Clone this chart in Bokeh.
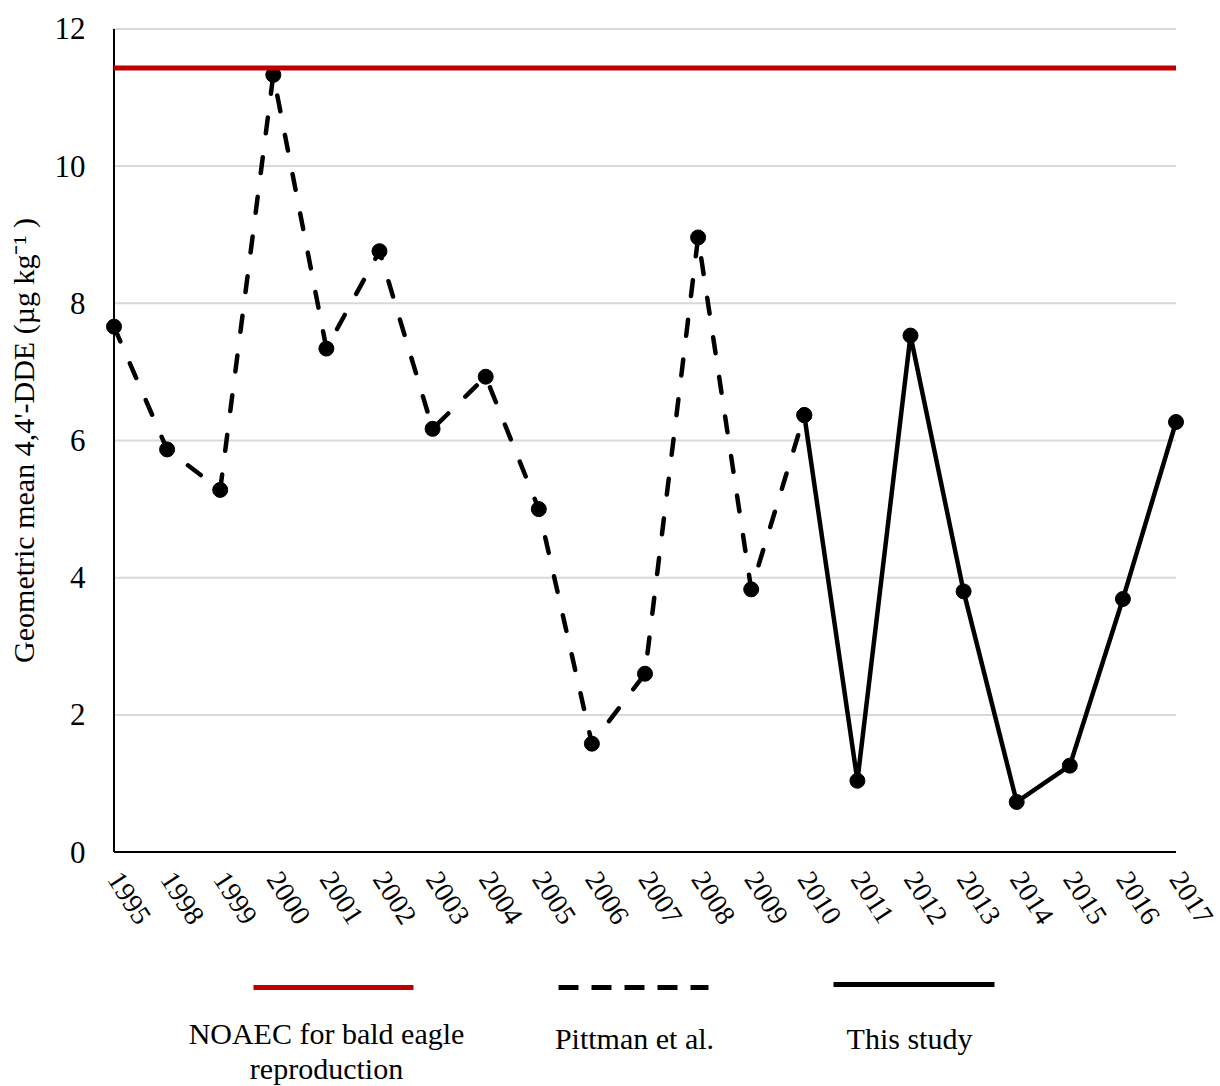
from bokeh.plotting import figure
from bokeh.models import Range1d, FixedTicker, Label
from bokeh.layouts import column
from bokeh.embed import file_html
from bokeh.resources import INLINE

years = ["1995", "1998", "1999", "2000", "2001", "2002", "2003", "2004", "2005", "2006",
         "2007", "2008", "2009", "2010", "2011", "2012", "2013", "2014", "2015", "2016", "2017"]
pittman_years = ["1995", "1998", "1999", "2000", "2001", "2002", "2003", "2004", "2005",
                 "2006", "2007", "2008", "2009", "2010"]
pittman_vals = [7.66, 5.87, 5.28, 11.33, 7.34, 8.76, 6.17, 6.93, 5.00, 1.58, 2.60, 8.96, 3.83, 6.37]
study_years = ["2010", "2011", "2012", "2013", "2014", "2015", "2016", "2017"]
study_vals = [6.37, 1.04, 7.53, 3.80, 0.73, 1.26, 3.69, 6.27]
noaec = 11.43
y_ticks = [0, 2, 4, 6, 8, 10, 12]

FONT = "Liberation Serif"
idx = {y: i for i, y in enumerate(years)}
px = [idx[y] for y in pittman_years]
sx = [idx[y] for y in study_years]
n_last = len(years) - 1
y_max = y_ticks[-1]

W = 1220
BL, BR = 105, 36

p = figure(width=W, height=950, x_range=Range1d(-0.16, n_last + 0.16),
           y_range=Range1d(-0.05, y_max + 0.05),
           output_backend="svg", toolbar_location=None,
           min_border_left=BL, min_border_right=BR, min_border_top=25, min_border_bottom=95)
p.outline_line_color = None
p.grid.visible = False

p.yaxis.ticker = FixedTicker(ticks=y_ticks)
p.xaxis.ticker = FixedTicker(ticks=list(range(len(years))))
p.xaxis.major_label_overrides = {i: y for i, y in enumerate(years)}
p.xaxis.major_label_orientation = -1.0
for ax in (p.xaxis, p.yaxis):
    ax.axis_line_color = None
    ax.major_tick_line_color = None
    ax.minor_tick_line_color = None
    ax.major_label_text_font = FONT
    ax.major_label_text_color = "black"
p.yaxis.major_label_text_font_size = "31px"
p.xaxis.major_label_text_font_size = "28px"
p.yaxis.major_label_standoff = 14
p.xaxis.major_label_standoff = 13
p.yaxis.axis_label = "Geometric mean 4,4'-DDE (µg kg⁻¹ )"
p.yaxis.axis_label_text_font = FONT
p.yaxis.axis_label_text_font_size = "30px"
p.yaxis.axis_label_text_font_style = "normal"
p.yaxis.axis_label_text_color = "black"
p.yaxis.axis_label_standoff = 12

# gridlines and axis lines drawn in data space (so end markers are not clipped)
p.segment(x0=[0] * len(y_ticks), y0=y_ticks, x1=[n_last] * len(y_ticks), y1=y_ticks,
          line_color="#d9d9d9", line_width=2)
p.segment(x0=[0], y0=[0], x1=[n_last], y1=[0], line_color="black", line_width=2)
p.segment(x0=[0], y0=[0], x1=[0], y1=[y_max], line_color="black", line_width=2)

p.line(px, pittman_vals, line_color="black", line_width=4.5, line_dash="16 24", line_cap="round")
p.line(sx, study_vals, line_color="black", line_width=4.5)
p.scatter(px, pittman_vals, size=15, color="black")
p.scatter(sx, study_vals, size=15, color="black")
p.line([0, n_last], [noaec, noaec], line_color="#c00000", line_width=5)

# legend figure (frame aligned with main figure; x data = page pixels)
lg = figure(width=W, height=136, x_range=Range1d(BL, W - BR), y_range=Range1d(136, 0),
            output_backend="svg", toolbar_location=None,
            min_border_left=BL, min_border_right=BR, min_border_top=0, min_border_bottom=0)
lg.axis.visible = False
lg.grid.visible = False
lg.outline_line_color = None
lg.line([253, 413], [37, 37], line_color="#c00000", line_width=5)
lg.line([558, 708], [37, 37], line_color="black", line_width=5, line_dash="20 13")
lg.line([833, 994], [34, 34], line_color="black", line_width=5)
labels = [(326, 83, "NOAEC for bald eagle"), (326, 118, "reproduction"),
          (634, 88, "Pittman et al."), (909, 88, "This study")]
for x, y, t in labels:
    lg.add_layout(Label(x=x, y=y, text=t, text_font=FONT, text_font_size="30px",
                        text_align="center", text_baseline="middle", text_color="black"))

layout = column(p, lg, spacing=0)
open("out.html", "w").write(file_html(layout, INLINE))
